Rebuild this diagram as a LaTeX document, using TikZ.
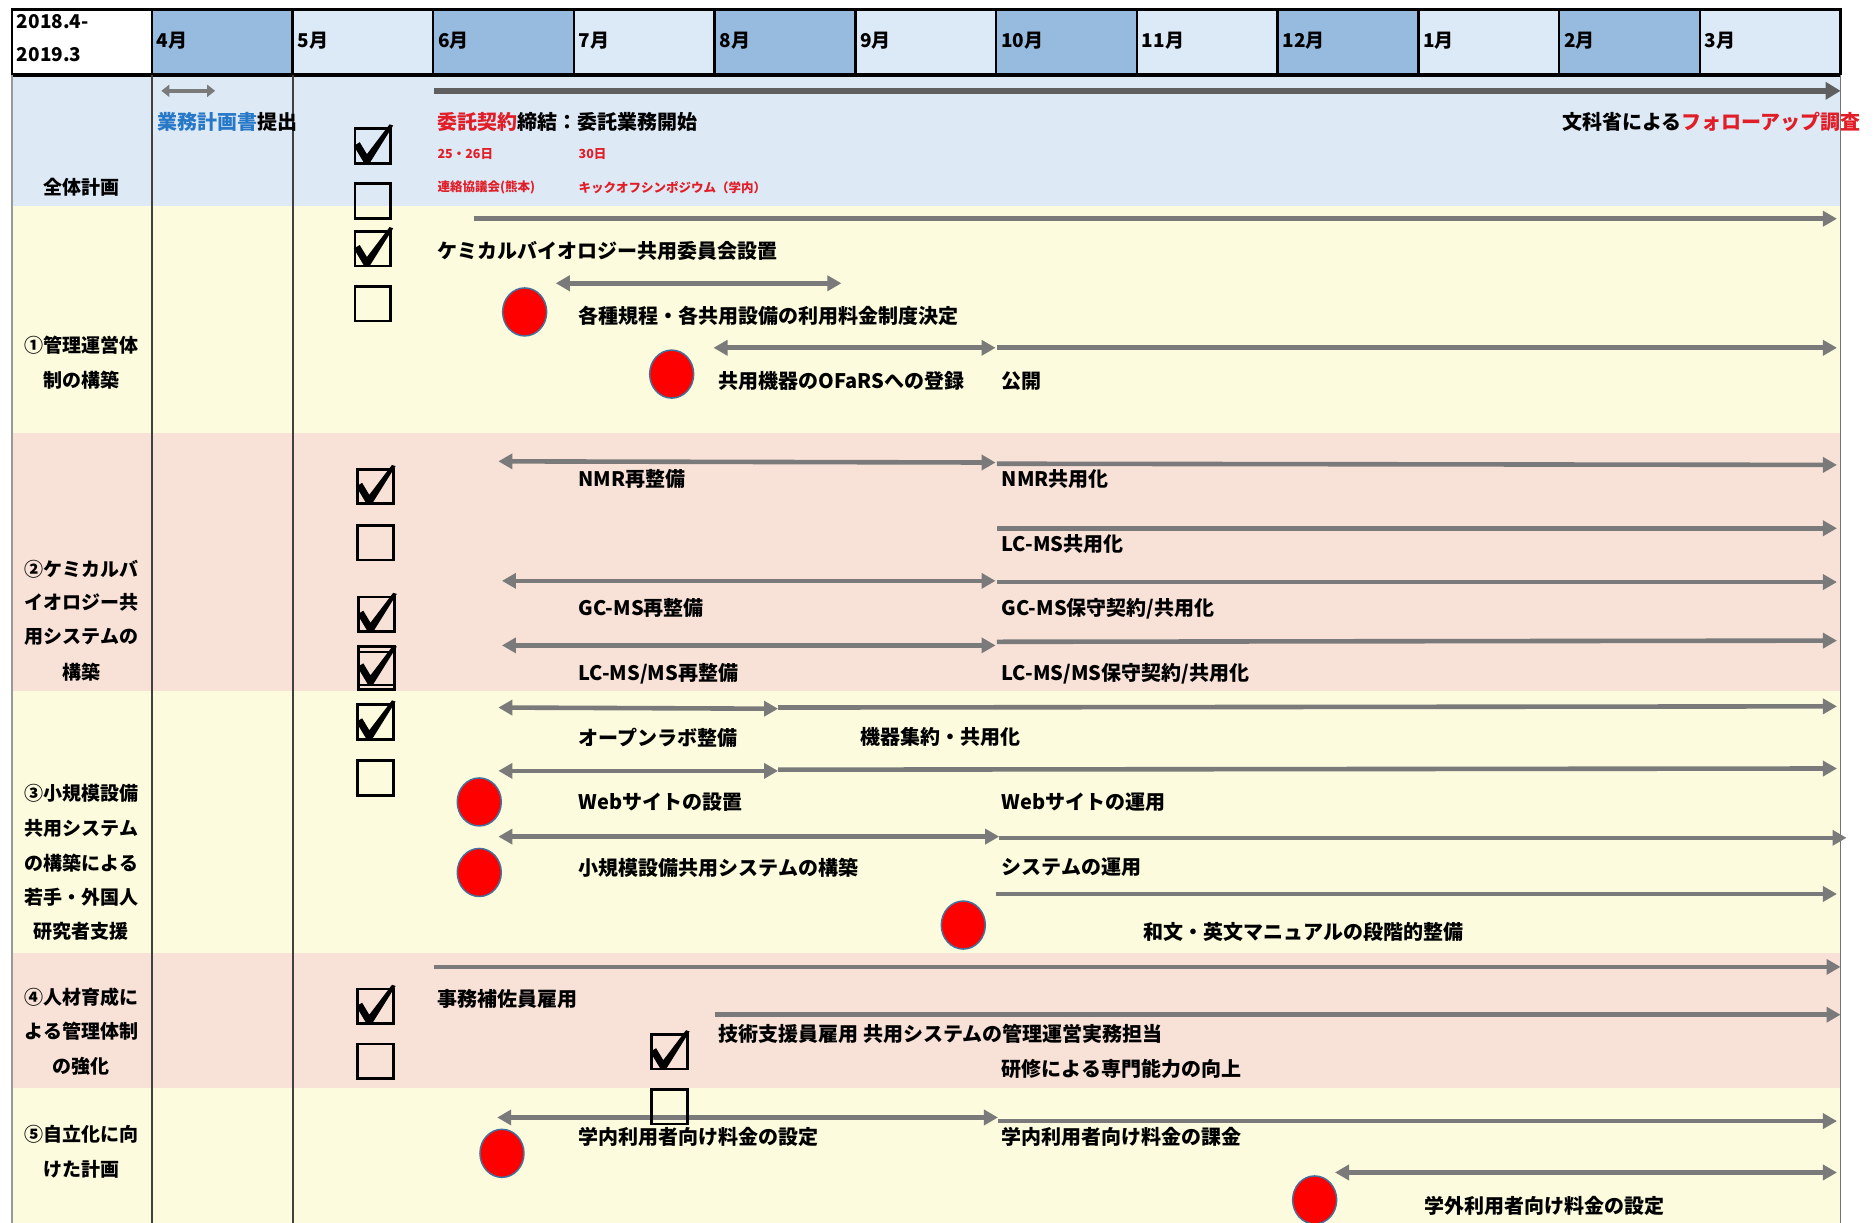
\documentclass[tikz,border=0pt]{standalone}
\usepackage{fontspec}
\setmainfont{Noto Sans CJK JP}
\usetikzlibrary{arrows.meta,shapes.geometric}
\definecolor{hdark}{RGB}{151,187,223}
\definecolor{hlight}{RGB}{220,233,246}
\definecolor{rblue}{RGB}{221,234,246}
\definecolor{ryel}{RGB}{252,251,221}
\definecolor{rpink}{RGB}{248,226,216}
\definecolor{agrey}{RGB}{122,122,122}
\definecolor{dgrey}{RGB}{95,95,95}
\definecolor{tred}{RGB}{225,30,40}
\definecolor{tblue}{RGB}{40,120,200}
\definecolor{dotedge}{RGB}{65,113,156}
\tikzset{
 arr/.style={draw=agrey, line width=4.6pt, -{Triangle[length=14pt,width=15pt]}},
 darr/.style={draw=agrey, line width=4.6pt, {Triangle[length=14pt,width=15pt]}-{Triangle[length=14pt,width=15pt]}},
 bigarr/.style={draw=dgrey, line width=5.5pt, -{Triangle[length=15pt,width=17pt]}},
 smallarr/.style={draw=agrey, line width=4pt, {Triangle[length=8pt,width=12pt]}-{Triangle[length=8pt,width=12pt]}},
 txt/.style={anchor=west, inner sep=0pt, font=\fontsize{20}{24}\selectfont\bfseries},
 lab/.style={anchor=center, inner sep=0pt, font=\fontsize{19}{23}\selectfont\bfseries},
 hdr/.style={anchor=west, inner sep=0pt, font=\fontsize{19}{23}\selectfont\bfseries},
 sm/.style={anchor=west, inner sep=0pt, text=tred, font=\fontsize{12.5}{15}\selectfont\bfseries},
 dot/.style={ellipse, minimum width=44pt, minimum height=48pt, fill=red, draw=dotedge, line width=1.5pt, inner sep=0pt},
 cboff/.pic={\draw[line width=2.8pt] (-15,-14.5) rectangle (15,14.5);},
 cbon/.pic={\draw[line width=2.8pt] (-15,-14.5) rectangle (15,14.5);
   \fill (-16,0) -- (-11,-3) -- (-5,7) -- (14,-18) -- (17,-17) -- (-3,15) -- (-7,15) -- cycle;},
}
\begin{document}
\begin{tikzpicture}[x=1.1952pt,y=-1.1952pt]
\useasboundingbox (0,0) rectangle (1568,1023);
\fill[white] (0,0) rectangle (1568,1023);
% row backgrounds
\fill[rblue] (10,63) rectangle (1540,172);
\fill[ryel] (10,172) rectangle (1540,362);
\fill[rpink] (10,362) rectangle (1540,578);
\fill[ryel] (10,578) rectangle (1540,797);
\fill[rpink] (10,797) rectangle (1540,910);
\fill[ryel] (10,910) rectangle (1540,1023);
% header
\foreach \m [count=\i from 0] in {4月,5月,6月,7月,8月,9月,10月,11月,12月,1月,2月,3月} {
  \pgfmathsetmacro\xa{127+\i*117.75}
  \pgfmathtruncatemacro\odd{mod(\i,2)}
  \ifnum\odd=0 \fill[hdark] (\xa,8) rectangle ++(117.75,54);
  \else \fill[hlight] (\xa,8) rectangle ++(117.75,54); \fi
  \draw[line width=2.5pt] (\xa,8) -- (\xa,62);
  \node[hdr] (m\i) at (\xa+4,34) {\m};
}
\draw[line width=2.5pt] (10,8) rectangle (1540,62);
\draw[line width=3pt] (10,63) -- (1540,63);
\node[hdr] (yr1) at (14,18) {2018.4-};
\node[hdr] (yr2) at (14,46) {2019.3};
% body lines
\draw[line width=1.2pt, black!40] (10,63) -- (10,1023);
\draw[line width=1.8pt, black!75] (127,63) -- (127,1023);
\draw[line width=1.8pt, black!75] (245,63) -- (245,1023);
\draw[line width=1.5pt, black!55] (1540,63) -- (1540,1023);
% labels
\node[lab] (L0) at (68,157) {全体計画};
\node[lab] (L1a) at (68,289) {①管理運営体};
\node[lab] (L1b) at (68,318) {制の構築};
\node[lab] (L2a) at (68,476) {②ケミカルバ};
\node[lab] (L2b) at (68,504) {イオロジー共};
\node[lab] (L2c) at (68,533) {用システムの};
\node[lab] (L2d) at (68,562) {構築};
\node[lab] (L3a) at (68,664) {③小規模設備};
\node[lab] (L3b) at (68,693) {共用システム};
\node[lab] (L3c) at (68,722) {の構築による};
\node[lab] (L3d) at (68,751) {若手・外国人};
\node[lab] (L3e) at (68,779) {研究者支援};
\node[lab] (L4a) at (68,834) {④人材育成に};
\node[lab] (L4b) at (68,863) {よる管理体制};
\node[lab] (L4c) at (68,892) {の強化};
\node[lab] (L5a) at (68,949) {⑤自立化に向};
\node[lab] (L5b) at (68,978) {けた計画};
% ---- overall plan
\draw[smallarr] (135,76) -- (180,76);
\draw[bigarr] (363,76) -- (1540,76);
\node[txt] (t01) at (132,102) {\textcolor{tblue}{業務計画書}提出};
\node[txt] (t02) at (366,102) {\textcolor{tred}{委託契約}締結：委託業務開始};
\node[sm] (t03) at (366,129) {25・26日};
\node[sm] (t04) at (484,129) {30日};
\node[sm] (t05) at (366,157) {連絡協議会(熊本)};
\node[sm] (t06) at (484,157) {キックオフシンポジウム（学内）};
\node[txt,anchor=east] (t07) at (1557,102) {文科省による\textcolor{tred}{フォローアップ調査}};
% ---- 1
\draw[arr] (397,183) -- (1537,183);
\draw[darr] (465,237) -- (704,237);
\draw[darr] (597,291) -- (833,291);
\draw[arr] (834,291) -- (1537,291);
\node[txt] (t11) at (366,210) {ケミカルバイオロジー共用委員会設置};
\node[txt] (t12) at (484,264) {各種規程・各共用設備の利用料金制度決定};
\node[txt] (t13) at (601,319) {共用機器のOFaRSへの登録};
\node[txt] (t14) at (838,319) {公開};
% ---- 2
\draw[darr] (417,386) -- (833,387);
\draw[arr] (834,388) -- (1537,389);
\draw[arr] (834,442) -- (1537,442);
\draw[darr] (420,486) -- (833,486);
\draw[arr] (834,487) -- (1537,487);
\draw[darr] (420,540) -- (833,540);
\draw[arr] (834,537) -- (1537,536);
\node[txt] (t21) at (484,401) {NMR再整備};
\node[txt] (t22) at (838,401) {NMR共用化};
\node[txt] (t23) at (838,455) {LC-MS共用化};
\node[txt] (t24) at (484,509) {GC-MS再整備};
\node[txt] (t25) at (838,509) {GC-MS保守契約/共用化};
\node[txt] (t26) at (484,564) {LC-MS/MS再整備};
\node[txt] (t27) at (838,564) {LC-MS/MS保守契約/共用化};
% ---- 3
\draw[darr] (417,592) -- (651,593);
\draw[arr] (651,592) -- (1537,591);
\draw[darr] (417,645) -- (651,645);
\draw[arr] (651,644) -- (1537,643);
\draw[darr] (417,700) -- (836,700);
\draw[arr] (836,701) -- (1545,701);
\draw[arr] (833,748) -- (1537,748);
\node[txt] (t31) at (484,617) {オープンラボ整備};
\node[txt] (t32) at (720,617) {機器集約・共用化};
\node[txt] (t33) at (484,671) {Webサイトの設置};
\node[txt] (t34) at (838,671) {Webサイトの運用};
\node[txt] (t35) at (484,726) {小規模設備共用システムの構築};
\node[txt] (t36) at (838,726) {システムの運用};
\node[txt] (t37) at (957,780) {和文・英文マニュアルの段階的整備};
% ---- 4
\draw[arr] (363,809) -- (1540,809);
\draw[arr] (598,849) -- (1540,849);
\node[txt] (t41) at (366,836) {事務補佐員雇用};
\node[txt] (t42) at (601,865) {技術支援員雇用 共用システムの管理運営実務担当};
\node[txt] (t43) at (838,894) {研修による専門能力の向上};
% ---- 5
\draw[darr] (416,935) -- (835,935);
\draw[arr] (835,938) -- (1537,938);
\draw[darr] (1117,981) -- (1537,981);
\node[txt] (t51) at (484,951) {学内利用者向け料金の設定};
\node[txt] (t52) at (838,951) {学内利用者向け料金の課金};
\node[txt] (t53) at (1192,1009) {学外利用者向け料金の設定};
% red dots
\node[dot] (d1) at (439,261) {};
\node[dot] (d2) at (562,313) {};
\node[dot] (d3) at (401,671) {};
\node[dot] (d4) at (401,730) {};
\node[dot] (d5) at (806,774) {};
\node[dot] (d6) at (420,965) {};
\node[dot] (d7) at (1100,1004) {};
% checkboxes
\pic at (312,122) {cbon};
\pic at (312,168) {cboff};
\pic at (312,208) {cbon};
\pic at (312,254) {cboff};
\pic at (314,407) {cbon};
\pic at (314,454) {cboff};
\pic at (315,514) {cbon};
\draw[line width=2.8pt] (300,541) rectangle (330,577);
\draw[line width=2.2pt] (300,545.5) rectangle (330,573);
\fill (299,558) -- (304,555) -- (310,565) -- (329,540) -- (332,541) -- (312,573) -- (308,573) -- cycle;
\pic at (314,604) {cbon};
\pic at (314,651) {cboff};
\pic at (314,842) {cbon};
\pic at (314,888) {cboff};
\pic at (560,880) {cbon};
\pic at (560,926) {cboff};
\end{tikzpicture}
\end{document}
